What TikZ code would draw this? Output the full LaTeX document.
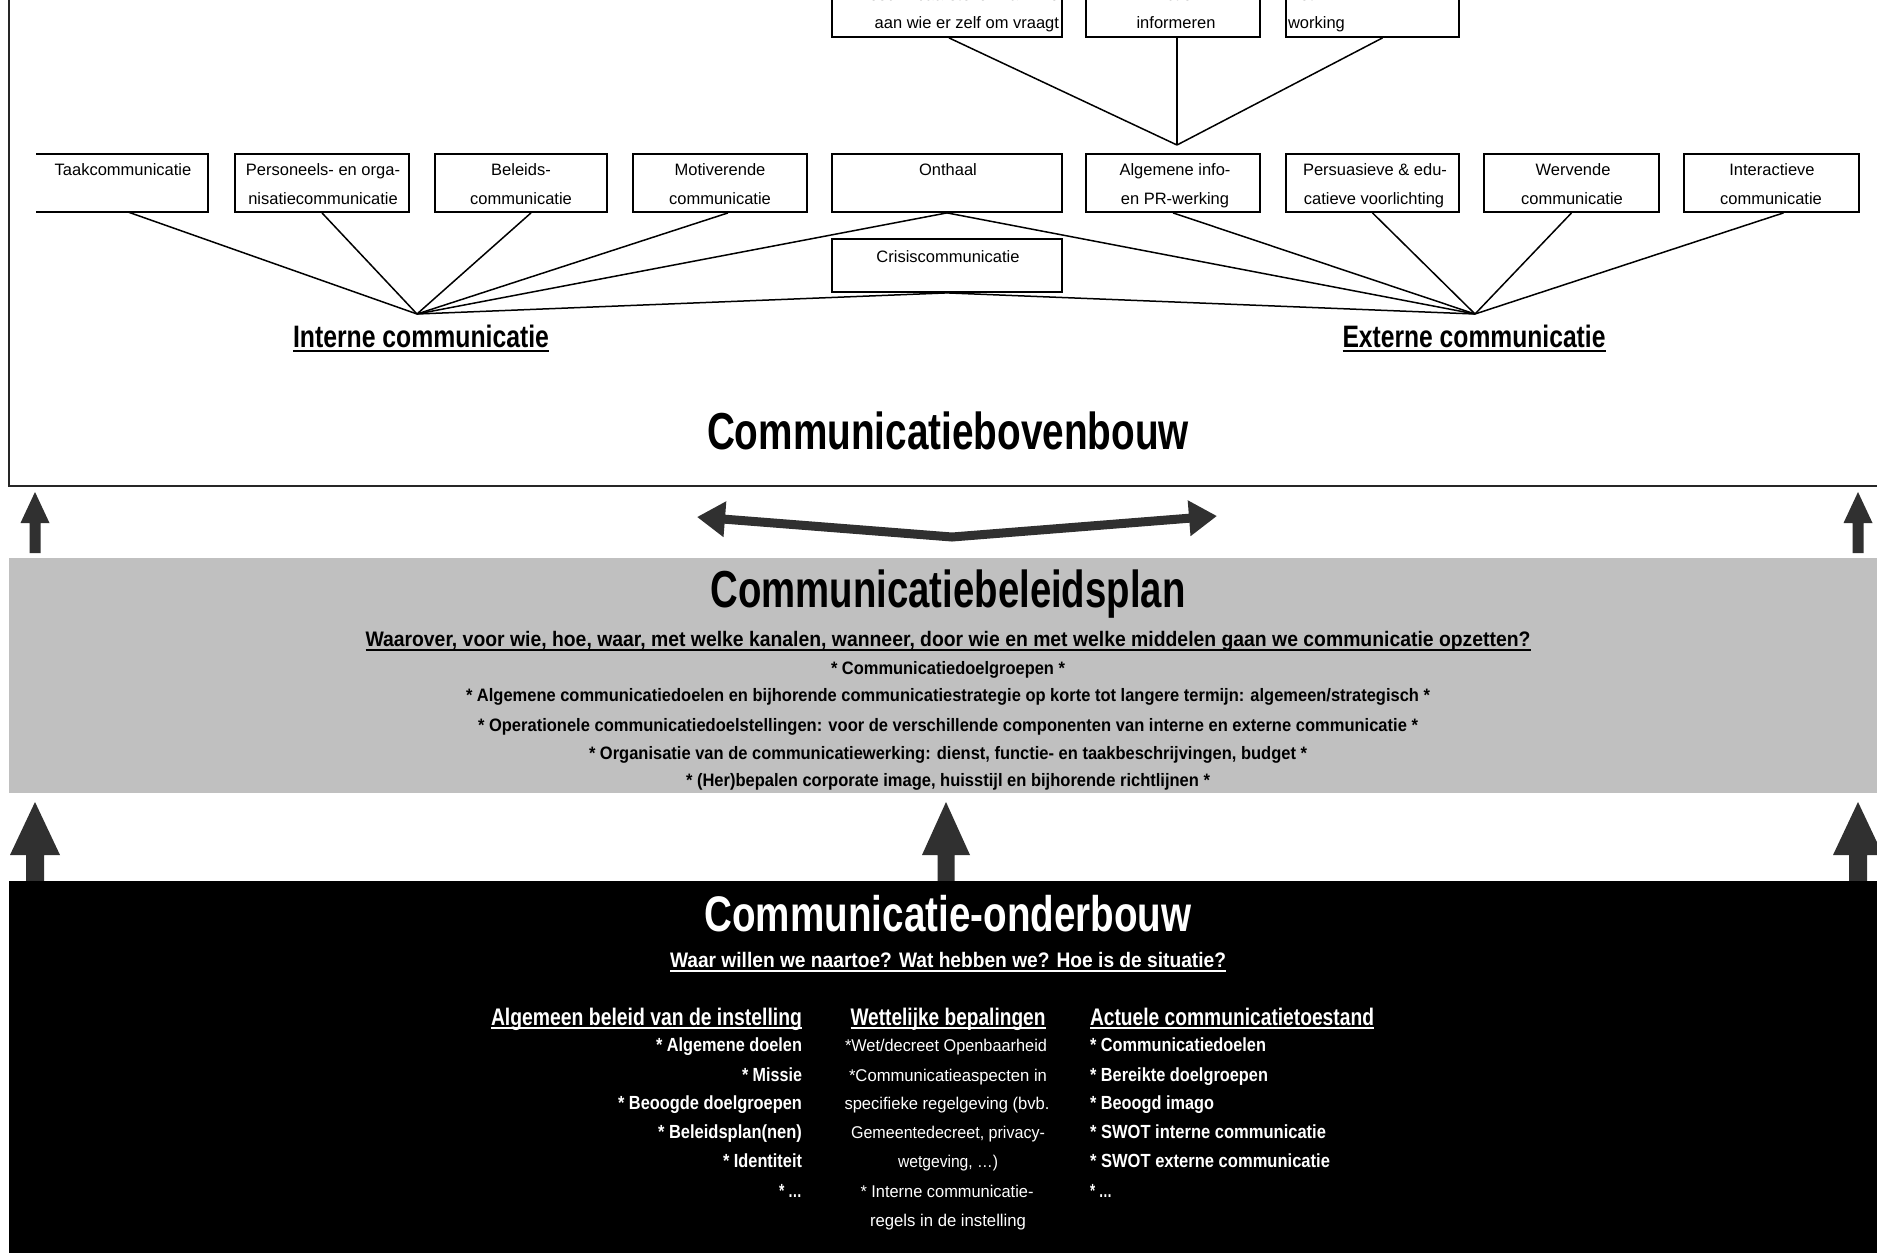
\documentclass[tikz,border=0pt]{standalone}
\usepackage{fontspec}
\setmainfont{Liberation Sans}
\usepackage{graphicx}
\usetikzlibrary{arrows.meta,calc}
\definecolor{band}{HTML}{C0C0C0}
\definecolor{arrfill}{HTML}{303030}
\newdimen\fitl
\newcommand\fitto[2]{\settowidth{\fitl}{#2}\pgfmathsetmacro\fitr{#1/\fitl}\scalebox{\fitr}[1]{#2}}
\newcommand\ulx[3]{\setbox0\hbox{#3}\leavevmode\rlap{\rule[-#1pt]{\wd0}{#2pt}}\box0}
\newcommand\upar[6]{%
  \fill[arrfill] (#1,#2) -- ({#1+#5},#3) -- ({#1+#6},#3) -- ({#1+#6},#4) -- ({#1-#6},#4) -- ({#1-#6},#3) -- ({#1-#5},#3) -- cycle;}
\begin{document}
\begin{tikzpicture}[x=1pt,y=-1pt,
  box/.style={draw=black, line width=1.8pt, fill=white, minimum height=58pt, inner sep=0pt},
  tx/.style={inner sep=0pt, outer sep=0pt},
  btx/.style={tx, anchor=base, font=\fontsize{16.5}{18}\selectfont},
  conn/.style={line width=1.5pt, black},
  big/.style={tx, anchor=base, font=\fontsize{52}{58}\selectfont\bfseries},
  mid/.style={tx, anchor=base, font=\fontsize{21}{24}\selectfont\bfseries},
  bul/.style={tx, anchor=base, font=\fontsize{18}{20}\selectfont\bfseries},
  hdr/.style={tx, font=\fontsize{24}{28}\selectfont\bfseries, text=white},
  itb/.style={tx, font=\fontsize{19}{22}\selectfont\bfseries, text=white},
  itr/.style={tx, anchor=base, font=\fontsize{17}{20}\selectfont, text=white},
]
\useasboundingbox (0,0) rectangle (1877,1253);
\clip (0,0) rectangle (1877,1253);
\fill[white] (0,0) rectangle (1877,1253);

% ---------- top frame ----------
\draw[line width=2.4pt, black!85] (9,-20) -- (9,486) -- (1900,486);

% ---------- top boxes ----------
\node[box, minimum width=230pt] (t1) at (947,8) {};
\node[box, minimum width=174pt] (t2) at (1173,8) {};
\node[box, minimum width=173pt] (t3) at (1372.5,8) {};
\node[btx, anchor=base east] (t1a) at (1059,0) {Beschikbaarstellen van info};
\node[btx, anchor=base east] (t1b) at (1059,28) {aan wie er zelf om vraagt};
\node[btx] (t2a) at (1176,0) {Actief};
\node[btx] (t2b) at (1176,28) {informeren};
\node[btx, anchor=base west] (t3a) at (1288,0) {Net};
\node[btx, anchor=base west] (t3b) at (1288,28) {working};

% ---------- row of communication boxes ----------
\node[tx, minimum width=172pt, minimum height=58pt] (taak) at (122,183) {};
\draw[line width=1.8pt] (taak.north west) -- (taak.north east) -- (taak.south east) -- (taak.south west);
\node[box, minimum width=174pt] (pers) at (322,183) {};
\node[box, minimum width=172pt] (bel) at (521,183) {};
\node[box, minimum width=174pt] (mot) at (720,183) {};
\node[box, minimum width=230pt] (ont) at (947,183) {};
\node[box, minimum width=174pt] (alg) at (1173,183) {};
\node[box, minimum width=173pt] (persu) at (1372.5,183) {};
\node[box, minimum width=175pt] (werv) at (1571.5,183) {};
\node[box, minimum width=175pt] (inter) at (1771.5,183) {};
\node[box, minimum width=230pt, minimum height=53pt] (cris) at (947,265.5) {};

\node[btx] (taakt) at (123,175) {Taakcommunicatie};
\node[btx] (persa) at (323,175) {Personeels- en orga-};
\node[btx] (persb) at (323,204) {nisatiecommunicatie};
\node[btx] (bela) at (521,175) {Beleids-};
\node[btx] (belb) at (521,204) {communicatie};
\node[btx] (mota) at (720,175) {Motiverende};
\node[btx] (motb) at (720,204) {communicatie};
\node[btx] (ontt) at (948,175) {Onthaal};
\node[btx] (alga) at (1175,175) {Algemene info-};
\node[btx] (algb) at (1175,204) {en PR-werking};
\node[btx] (persua) at (1375,175) {Persuasieve \& edu-};
\node[btx] (persub) at (1374,204) {catieve voorlichting};
\node[btx] (werva) at (1573,175) {Wervende};
\node[btx] (wervb) at (1572,204) {communicatie};
\node[btx] (intera) at (1772,175) {Interactieve};
\node[btx] (interb) at (1771,204) {communicatie};
\node[btx] (crist) at (948,262) {Crisiscommunicatie};

% ---------- connectors ----------
\coordinate (A) at (1177,145);
\coordinate (I) at (417,314);
\coordinate (E) at (1475,314);
\draw[conn] ($(t1.south)+(2,0)$) -- (A);
\draw[conn] (A |- t2.south) -- (A);
\draw[conn] ($(t3.south)+(10,0)$) -- (A);

\draw[conn] ($(taak.south)+(6,0)$) -- (I);
\draw[conn] (pers.south) -- (I);
\draw[conn] ($(bel.south)+(10,0)$) -- (I);
\draw[conn] ($(mot.south)+(8,0)$) -- (I);
\draw[conn] (ont.south) -- (I);
\draw[conn] (cris.south) -- (I);
\draw[conn] (ont.south) -- (E);
\draw[conn] (alg.south) -- (E);
\draw[conn] (persu.south) -- (E);
\draw[conn] (werv.south) -- (E);
\draw[conn] ($(inter.south)+(12,0)$) -- (E);
\draw[conn] (cris.south) -- (E);

\node[tx, anchor=base, font=\fontsize{31}{36}\selectfont\bfseries] (intl) at (421,347) {\ulx{5}{2.5}{\fitto{256}{Interne communicatie}}};
\node[tx, anchor=base, font=\fontsize{31}{36}\selectfont\bfseries] (extl) at (1474,347) {\ulx{5}{2.5}{\fitto{263}{Externe communicatie}}};

\node[big] (bov) at (948,449) {\fitto{482}{Communicatiebovenbouw}};

% ---------- arrows between frame and plan ----------
\upar{35}{492}{523}{553}{14.5}{5.5}
\upar{1858}{492}{523}{553}{14.5}{5.5}
\draw[arrfill, line width=9pt, line join=miter,
  {Triangle[length=28pt,width=34pt]}-{Triangle[length=28pt,width=34pt]}]
  (697,517) -- (952,537) -- (1217,516);

% ---------- beleidsplan band ----------
\fill[band] (9,558) rectangle (1900,793);
\node[big] (plan) at (948,607) {\fitto{475}{Communicatiebeleidsplan}};
\node[mid] (q1) at (948,646) {\ulx{4.5}{2}{\fitto{1165}{Waarover, voor wie, hoe, waar, met welke kanalen, wanneer, door wie en met welke middelen gaan we communicatie opzetten?}}};
\node[bul] (p1) at (948,674) {\fitto{234}{* Communicatiedoelgroepen *}};
\node[bul] (p2) at (948,701) {\fitto{964}{* Algemene communicatiedoelen en bijhorende communicatiestrategie op korte tot langere termijn: algemeen/strategisch *}};
\node[bul] (p3) at (948,731) {\fitto{940}{* Operationele communicatiedoelstellingen: voor de verschillende componenten van interne en externe communicatie *}};
\node[bul] (p4) at (948,759) {\fitto{718}{* Organisatie van de communicatiewerking: dienst, functie- en taakbeschrijvingen, budget *}};
\node[bul] (p5) at (948,786) {\fitto{524}{* (Her)bepalen corporate image, huisstijl en bijhorende richtlijnen *}};

% ---------- arrows between plan and onderbouw ----------
\upar{35}{802}{855}{881}{25}{9}
\upar{946}{802}{855}{881}{24}{8.5}
\upar{1858}{802}{855}{881}{25}{9}

% ---------- onderbouw ----------
\fill[black] (9,881) rectangle (1900,1260);
\node[big, text=white, font=\fontsize{50}{56}\selectfont\bfseries] (ond) at (948,931) {\fitto{487}{Communicatie-onderbouw}};
\node[mid, text=white] (q2) at (948,967) {\ulx{4.5}{2}{\fitto{556}{Waar willen we naartoe? Wat hebben we? Hoe is de situatie?}}};

\node[hdr, anchor=base east] (h1) at (802,1025) {\ulx{4}{2}{\fitto{311}{Algemeen beleid van de instelling}}};
\node[hdr, anchor=base] (h2) at (948,1025) {\ulx{4}{2}{\fitto{195}{Wettelijke bepalingen}}};
\node[hdr, anchor=base west] (h3) at (1090,1025) {\ulx{4}{2}{\fitto{284}{Actuele communicatietoestand}}};

\node[itb, anchor=base east] (l1) at (802,1051) {\fitto{146}{* Algemene doelen}};
\node[itb, anchor=base east] (l2) at (802,1081) {\fitto{60}{* Missie}};
\node[itb, anchor=base east] (l3) at (802,1109) {\fitto{184}{* Beoogde doelgroepen}};
\node[itb, anchor=base east] (l4) at (802,1138) {\fitto{144}{* Beleidsplan(nen)}};
\node[itb, anchor=base east] (l5) at (802,1167) {\fitto{79}{* Identiteit}};
\node[itb, anchor=base east] (l6) at (802,1197) {\fitto{23}{* …}};

\node[itr] (m1) at (946,1051) {\fitto{202}{*Wet/decreet Openbaarheid}};
\node[itr] (m2) at (948,1081) {\fitto{198}{*Communicatieaspecten in}};
\node[itr] (m3) at (947,1109) {\fitto{205}{specifieke regelgeving (bvb.}};
\node[itr] (m4) at (948,1138) {\fitto{194}{Gemeentedecreet, privacy-}};
\node[itr] (m5) at (948,1167) {\fitto{100}{wetgeving, …)}};
\node[itr] (m6) at (947,1197) {\fitto{173}{* Interne communicatie-}};
\node[itr] (m7) at (948,1226) {\fitto{156}{regels in de instelling}};

\node[itb, anchor=base west] (r1) at (1090,1051) {\fitto{176}{* Communicatiedoelen}};
\node[itb, anchor=base west] (r2) at (1090,1081) {\fitto{178}{* Bereikte doelgroepen}};
\node[itb, anchor=base west] (r3) at (1090,1109) {\fitto{124}{* Beoogd imago}};
\node[itb, anchor=base west] (r4) at (1090,1138) {\fitto{236}{* SWOT interne communicatie}};
\node[itb, anchor=base west] (r5) at (1090,1167) {\fitto{240}{* SWOT externe communicatie}};
\node[itb, anchor=base west] (r6) at (1090,1197) {\fitto{22}{* …}};
\end{tikzpicture}
\end{document}
